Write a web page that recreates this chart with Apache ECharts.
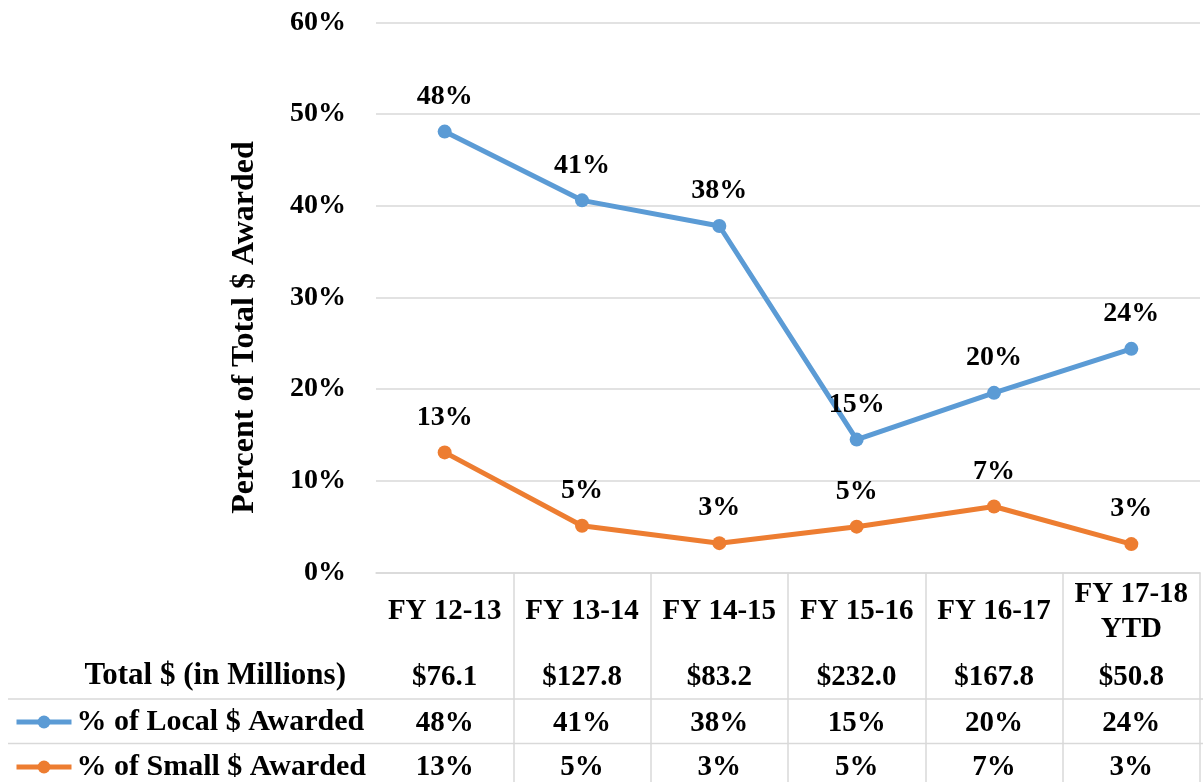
<!DOCTYPE html>
<html>
<head>
<meta charset="utf-8">
<title>Percent of Total $ Awarded</title>
<script src="https://cdn.jsdelivr.net/npm/echarts@6/dist/echarts.min.js"></script>
<style>
  html, body { margin: 0; padding: 0; background: #fff; }
  #chart { width: 1203px; height: 782px; }
</style>
</head>
<body>
<div id="chart"></div>
<script>
// fiscal years (table header)
var categories = ['FY 12-13', 'FY 13-14', 'FY 14-15', 'FY 15-16', 'FY 16-17', 'FY 17-18\nYTD'];
// total $ awarded, millions
var totals = ['$76.1', '$127.8', '$83.2', '$232.0', '$167.8', '$50.8'];
// % of local $ awarded
var localPct = [48.1, 40.6, 37.8, 14.5, 19.6, 24.4];
// % of small $ awarded
var smallPct = [13.1, 5.1, 3.2, 5.0, 7.2, 3.1];

var FONT = '"Liberation Serif", "DejaVu Serif", serif';
var GRID_COLOR = '#d9d9d9';

function pct (v) {
  return Math.round(v) + '%';
}

function txt (size) {
  return {
    color: '#000',
    fontFamily: FONT,
    fontWeight: 'bold',
    fontSize: size
  }
}

// one hidden axis per table row, stacked under the plot
function tableRow (data, offset, extra) {
  return Object.assign({
    type: 'category',
    gridIndex: 1,
    position: 'top',
    offset: offset,
    data: data,
    axisLine: { show: false },
    axisTick: { show: false },
    axisLabel: Object.assign({ interval: 0, margin: 0, verticalAlign: 'middle', lineHeight: 35 }, txt(29)),
    splitLine: { show: false }
  }, extra || {})
}

var chart = echarts.init(document.getElementById('chart'))

var option = {
  animation: false,
  grid: [
    { left: 376, right: 3, top: 22.5, height: 550, outerBoundsMode: 'none' },
    { left: 376, right: 3, top: 572.5, bottom: 0, outerBoundsMode: 'none' }
  ],
  legend: {
    orient: 'vertical',
    left: 14,
    top: 707,
    height: 120,
    padding: 0,
    itemWidth: 55,
    itemHeight: 16,
    itemGap: 15,
    lineStyle: { width: 5 },
    textStyle: Object.assign({ lineHeight: 30 }, txt(30)),
    data: ['% of Local $ Awarded', '% of Small $ Awarded']
  },
  graphic: [
    {
      type: 'text',
      x: 346,
      y: 676,
      style: { text: 'Total $ (in Millions)', align: 'right', verticalAlign: 'middle', fill: '#000',
        font: 'bold 31px ' + FONT }
    },
    { type: 'line', shape: { x1: 8, y1: 699, x2: 1203, y2: 699 }, style: { stroke: GRID_COLOR, lineWidth: 1.5 } },
    { type: 'line', shape: { x1: 8, y1: 743.5, x2: 1203, y2: 743.5 }, style: { stroke: GRID_COLOR, lineWidth: 1.5 } }
  ],
  xAxis: [
    {
      type: 'category',
      gridIndex: 0,
      data: categories,
      boundaryGap: true,
      axisLine: { show: true, lineStyle: { color: GRID_COLOR, width: 1.5 } },
      axisTick: { show: false },
      axisLabel: { show: false }
    },
    tableRow(categories, -39.5, {
      splitLine: { show: true, showMinLine: false, lineStyle: { color: GRID_COLOR, width: 1.5 } }
    }),
    tableRow(totals, -105),
    tableRow(localPct.map(pct), -151),
    tableRow(smallPct.map(pct), -195.5)
  ],
  yAxis: [
    {
      type: 'value',
      gridIndex: 0,
      min: 0,
      max: 60,
      interval: 10,
      axisLine: { show: false },
      axisTick: { show: false },
      axisLabel: Object.assign({ formatter: '{value}%', margin: 30 }, txt(28)),
      splitLine: { lineStyle: { color: GRID_COLOR, width: 1.5 } },
      name: 'Percent of Total $ Awarded',
      nameLocation: 'middle',
      nameGap: 115,
      nameRotate: 90,
      nameTextStyle: Object.assign({ padding: [0, 60, 0, 0] }, txt(32))
    },
    {
      type: 'value',
      gridIndex: 1,
      show: false
    }
  ],
  series: [
    {
      name: '% of Local $ Awarded',
      type: 'line',
      data: localPct,
      color: '#5b9bd5',
      symbol: 'circle',
      symbolSize: 14,
      lineStyle: { width: 5 },
      label: Object.assign({ show: true, position: 'top', distance: 14, formatter: function (p) { return pct(p.value) } }, txt(28))
    },
    {
      name: '% of Small $ Awarded',
      type: 'line',
      data: smallPct,
      color: '#ed7d31',
      symbol: 'circle',
      symbolSize: 14,
      lineStyle: { width: 5 },
      label: Object.assign({ show: true, position: 'top', distance: 14, formatter: function (p) { return pct(p.value) } }, txt(28))
    }
  ]
}

chart.setOption(option)
</script>
</body>
</html>
